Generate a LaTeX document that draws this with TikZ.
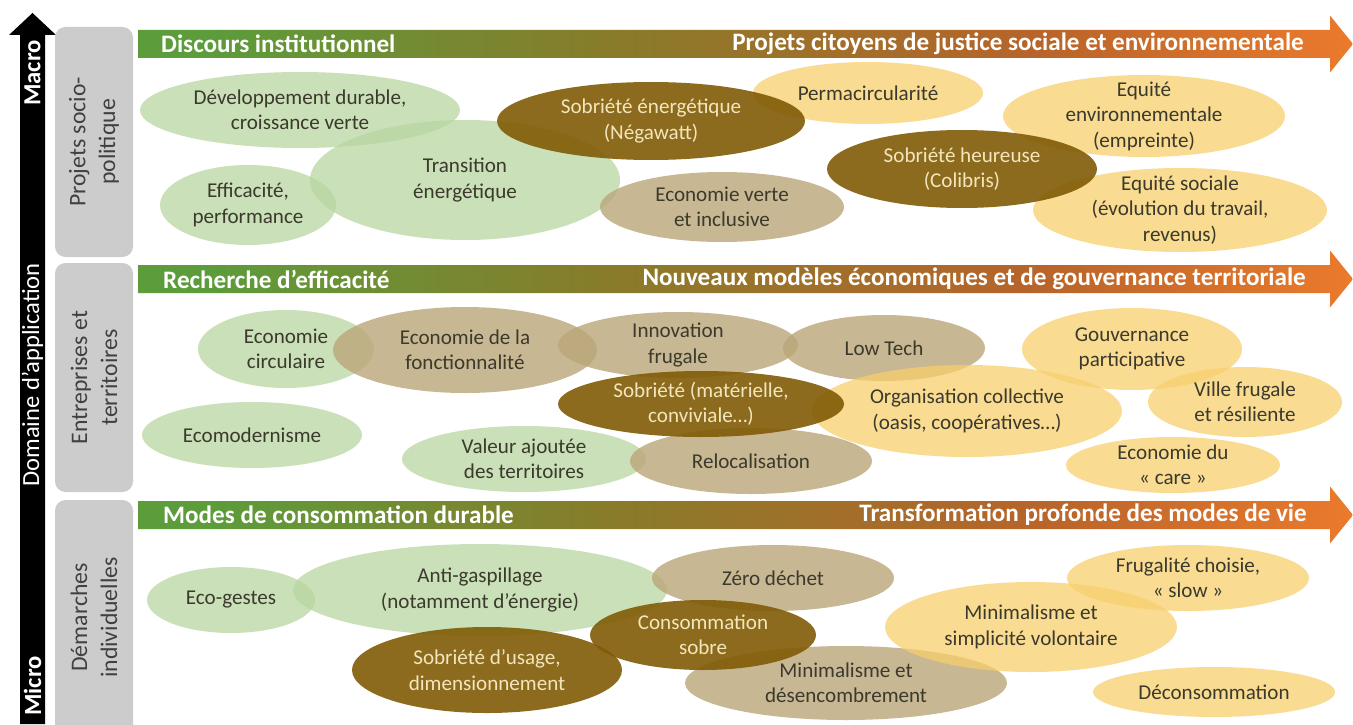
\documentclass[tikz,border=0pt]{standalone}
\usepackage{fontspec}
\setmainfont{Carlito}
\usetikzlibrary{shapes.geometric}

\definecolor{vertc}{HTML}{B8D6A1}
\definecolor{beigec}{HTML}{BBA679}
\definecolor{brunc}{HTML}{805B06}
\definecolor{jaunec}{HTML}{F7CF6D}
\definecolor{encre}{HTML}{3B3A2C}
\definecolor{clair}{HTML}{F3E6BC}
\definecolor{vbd}{HTML}{5C9C3A}
\definecolor{obd}{HTML}{8A7A2A}
\definecolor{rbd}{HTML}{B8642A}
\definecolor{orbd}{HTML}{EB7A2C}
\pgfdeclarehorizontalshading{bandeau}{100bp}{color(0bp)=(vbd); color(28bp)=(vbd);
  color(45bp)=(obd); color(62bp)=(rbd); color(75bp)=(orbd); color(100bp)=(orbd)}

\begin{document}
\begin{tikzpicture}[
  bul/.style={ellipse, inner sep=-1cm, align=center, text opacity=1,
    font=\fontsize{12}{14.5}\selectfont},
  taille/.style 2 args={minimum width=#1cm, minimum height=#2cm},
  vert/.style={bul, fill=vertc, fill opacity=.75, text=encre},
  beige/.style={bul, fill=beigec, fill opacity=.8, text=encre},
  jaune/.style={bul, fill=jaunec, fill opacity=.75, text=encre},
  brun/.style={bul, fill=brunc, fill opacity=.9, text=clair},
  lab/.style={rotate=90, fill=black!20, rounded corners=6pt, align=center,
    text=black!75, font=\fontsize{13.5}{17}\selectfont},
  tete/.style={text=white, font=\fontsize{14.3}{16}\selectfont\bfseries},
  axe/.style={rotate=90, text=white, font=\fontsize{14}{16}\selectfont},
]
  \fill[white] (0,0) rectangle (27.06,14.48);
  \useasboundingbox (0,0) rectangle (27.06,14.48);

  % axe vertical : Micro en bas, Macro en haut
  \fill[black] (0.40,0) -- (0.40,13.78) -- (0.18,13.78) -- (0.65,14.22)
    -- (1.12,13.78) -- (0.90,13.78) -- (0.90,0) -- cycle;
  \node[axe, font=\fontsize{14}{16}\selectfont\bfseries] (macro) at (0.65,13.02) {Macro};
  \node[axe] (domaine) at (0.65,6.98) {Domaine d’application};
  \node[axe, font=\fontsize{14}{16}\selectfont\bfseries] (micro) at (0.65,0.76) {Micro};

  \node[lab, minimum width=4.60cm, minimum height=1.56cm] (n1) at (1.88,11.64) {Projets socio-\\ politique};
  \node[lab, minimum width=4.58cm, minimum height=1.56cm] (n2) at (1.88,6.93) {Entreprises et\\ territoires};
  \node[lab, minimum width=4.70cm, minimum height=1.56cm] (n3) at (1.88,2.13) {Démarches\\ individuelles};

  % bandeaux : de 2,76 a 27,06 (pointe)
  \path[shading=bandeau] (2.76,13.88) -- (26.60,13.88) -- (26.60,14.17) -- (27.06,13.60)
    -- (26.60,13.03) -- (26.60,13.32) -- (2.76,13.32) -- cycle;
  \path[shading=bandeau] (2.76,9.18) -- (26.60,9.18) -- (26.60,9.47) -- (27.06,8.90)
    -- (26.60,8.33) -- (26.60,8.62) -- (2.76,8.62) -- cycle;
  \path[shading=bandeau] (2.76,4.46) -- (26.60,4.46) -- (26.60,4.75) -- (27.06,4.18)
    -- (26.60,3.61) -- (26.60,3.90) -- (2.76,3.90) -- cycle;
  \node[tete, anchor=west] (g1) at (3.10,13.60) {Discours institutionnel};
  \node[tete, anchor=east] (d1) at (26.20,13.60) {Projets citoyens de justice sociale et environnementale};
  \node[tete, anchor=west] (g2) at (3.14,8.90) {Recherche d’efficacité};
  \node[tete, anchor=east] (d2) at (26.24,8.90) {Nouveaux modèles économiques et de gouvernance territoriale};
  \node[tete, anchor=west] (g3) at (3.14,4.18) {Modes de consommation durable};
  \node[tete, anchor=east] (d3) at (26.26,4.18) {Transformation profonde des modes de vie};

  % projets socio-politiques
  \node[vert, taille={6.40}{1.52}] (dd) at (6.00,12.28) {Développement durable,\\ croissance verte};
  \node[vert, taille={6.20}{2.40}] (te) at (9.30,10.88) {Transition\\ énergétique};
  \node[vert, taille={3.52}{1.60}] (ep) at (4.96,10.38) {Efficacité,\\ performance};
  \node[beige, taille={4.88}{1.40}] (ev) at (14.44,10.34) {Economie verte\\ et inclusive};
  \node[jaune, taille={4.60}{1.24}] (pc) at (17.36,12.62) {Permacircularité};
  \node[jaune, taille={5.64}{1.64}] (ee) at (22.88,12.16) {Equité\\ environnementale\\ (empreinte)};
  \node[jaune, taille={5.88}{1.68}] (es) at (23.60,10.28) {Equité sociale\\ (évolution du travail,\\ revenus)};
  \node[brun, taille={6.16}{1.56}] (se) at (13.02,12.06) {Sobriété énergétique\\ (Négawatt)};
  \node[brun, taille={5.40}{1.56}] (sh) at (19.24,11.10) {Sobriété heureuse\\ (Colibris)};

  % entreprises et territoires
  \node[vert, taille={3.52}{1.56}] (ec) at (5.72,7.50) {Economie\\ circulaire};
  \node[vert, taille={4.40}{1.32}] (em) at (5.04,5.78) {Ecomodernisme};
  \node[vert, taille={4.88}{1.32}] (va) at (10.48,5.30) {Valeur ajoutée\\ des territoires};
  \node[beige, taille={5.28}{1.72}] (ef) at (9.30,7.48) {Economie de la\\ fonctionnalité};
  \node[beige, taille={4.80}{1.32}] (if) at (13.56,7.58) {Innovation\\ frugale};
  \node[beige, taille={4.04}{1.32}] (lt) at (17.68,7.52) {Low Tech};
  \node[beige, taille={4.84}{1.32}] (rl) at (15.02,5.26) {Relocalisation};
  \node[jaune, taille={6.20}{1.84}] (oc) at (19.34,6.26) {Organisation collective\\ (oasis, coopératives…)};
  \node[jaune, taille={4.40}{1.64}] (gp) at (22.64,7.50) {Gouvernance\\ participative};
  \node[jaune, taille={3.88}{1.40}] (vf) at (24.90,6.44) {Ville frugale\\ et résiliente};
  \node[jaune, taille={4.28}{1.12}] (eca) at (23.46,5.18) {Economie du\\ «~care~»};
  \node[brun, taille={5.72}{1.32}] (sm) at (14.02,6.40) {Sobriété (matérielle,\\ conviviale…)};

  % demarches individuelles
  \node[vert, taille={3.36}{1.32}] (eg) at (4.62,2.48) {Eco-gestes};
  \node[vert, taille={7.48}{1.84}] (ag) at (9.60,2.68) {Anti-gaspillage\\ (notamment d’énergie)};
  \node[beige, taille={4.84}{1.32}] (zd) at (15.46,2.92) {Zéro déchet};
  \node[beige, taille={6.44}{1.48}] (md) at (16.92,0.82) {Minimalisme et\\ désencombrement};
  \node[jaune, taille={5.84}{1.80}] (ms) at (20.62,1.94) {Minimalisme et\\ simplicité volontaire};
  \node[jaune, taille={4.84}{1.32}] (fc) at (23.76,2.92) {Frugalité choisie,\\ «~slow~»};
  \node[jaune, taille={4.84}{1.00}] (dc) at (24.28,0.64) {Déconsommation};
  \node[brun, taille={5.40}{1.72}] (su) at (9.74,1.08) {Sobriété d’usage,\\ dimensionnement};
  \node[brun, taille={4.52}{1.40}] (cs) at (14.06,1.78) {Consommation\\ sobre};
\end{tikzpicture}
\end{document}
